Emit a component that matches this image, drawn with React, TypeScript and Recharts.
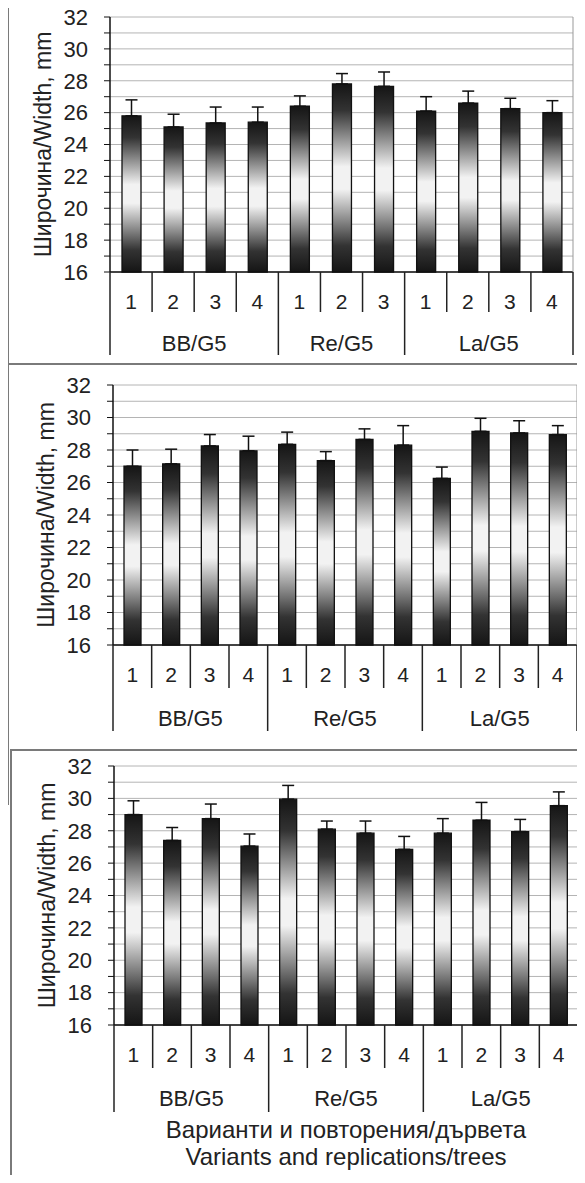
import React from "react";
import { Bar, BarChart, CartesianGrid, ErrorBar, XAxis, YAxis } from "recharts";

// shared axis values
const yTicks = [16, 17, 18, 19, 20, 21, 22, 23, 24, 25, 26, 27, 28, 29, 30, 31, 32];
const yLabel = "Широчина/Width, mm";
const titleBg = "Варианти и повторения/дървета";
const titleEn = "Variants and replications/trees";

// panel 1
const p1Reps = ["1", "2", "3", "4", "1", "2", "3", "1", "2", "3", "4"];
const p1Groups = ["BB/G5", "BB/G5", "BB/G5", "BB/G5", "Re/G5", "Re/G5", "Re/G5", "La/G5", "La/G5", "La/G5", "La/G5"];
const p1Means = [25.8, 25.1, 25.35, 25.4, 26.4, 27.8, 27.65, 26.1, 26.6, 26.25, 26.0];
const p1Errors = [1.0, 0.8, 1.0, 0.95, 0.65, 0.65, 0.9, 0.9, 0.75, 0.65, 0.75];

// panel 2
const p2Reps = ["1", "2", "3", "4", "1", "2", "3", "4", "1", "2", "3", "4"];
const p2Groups = ["BB/G5", "BB/G5", "BB/G5", "BB/G5", "Re/G5", "Re/G5", "Re/G5", "Re/G5", "La/G5", "La/G5", "La/G5", "La/G5"];
const p2Means = [27.0, 27.15, 28.25, 27.95, 28.35, 27.35, 28.65, 28.3, 26.25, 29.15, 29.05, 28.95];
const p2Errors = [1.0, 0.9, 0.7, 0.9, 0.75, 0.55, 0.65, 1.2, 0.7, 0.8, 0.75, 0.55];

// panel 3
const p3Reps = ["1", "2", "3", "4", "1", "2", "3", "4", "1", "2", "3", "4"];
const p3Groups = ["BB/G5", "BB/G5", "BB/G5", "BB/G5", "Re/G5", "Re/G5", "Re/G5", "Re/G5", "La/G5", "La/G5", "La/G5", "La/G5"];
const p3Means = [29.0, 27.4, 28.75, 27.05, 29.95, 28.1, 27.85, 26.85, 27.85, 28.65, 27.95, 29.55];
const p3Errors = [0.85, 0.8, 0.9, 0.75, 0.85, 0.5, 0.75, 0.8, 0.9, 1.1, 0.75, 0.85];

const FONT = "'Liberation Sans', Arial, sans-serif";
const CHART_W = 585;
const TOP_PAD = 12;
const X_AXIS_H = 90;

type Offsets = { num: number; grp: number; short: number; long: number };

const buildRows = (reps: string[], groups: string[], means: number[], errors: number[]) =>
  reps.map((rep, i) => ({ rep, grp: groups[i], mean: means[i], err: [0, errors[i]] }));

const YTick = (props: any) => {
  const { x, y, payload } = props;
  if (payload.value % 2 !== 0) return <g />;
  return (
    <text x={x} y={y} dy="0.355em" textAnchor="end" fontSize={22} fill="#222" fontFamily={FONT}>
      {payload.value}
    </text>
  );
};

const makeYLabel = () => (props: any) => {
  const { x, y, width, height } = props.viewBox;
  const cx = x + width - 59;
  const cy = y + height / 2;
  return (
    <text
      x={cx}
      y={cy}
      transform={`rotate(-90 ${cx} ${cy})`}
      textAnchor="middle"
      fontSize={23}
      fill="#222"
      fontFamily={FONT}
    >
      {yLabel}
    </text>
  );
};

const makeXTick = (groups: string[], band: number, o: Offsets) => (props: any) => {
  const { x, y, index, payload } = props;
  const half = band / 2;
  const start = index === 0 || groups[index] !== groups[index - 1];
  let size = 0;
  if (start) {
    while (groups[index + size] === groups[index]) size++;
  }
  const last = index === groups.length - 1;
  return (
    <g>
      <text x={x} y={y + o.num} dy="0.355em" textAnchor="middle" fontSize={21} fill="#222" fontFamily={FONT}>
        {payload.value}
      </text>
      <line x1={x - half} x2={x - half} y1={y} y2={y + (start ? o.long : o.short)} stroke="#222" strokeWidth={1.5} />
      {last && <line x1={x + half} x2={x + half} y1={y} y2={y + o.long} stroke="#222" strokeWidth={1.5} />}
      {start && (
        <text
          x={x + (size - 1) * half}
          y={y + o.grp}
          dy="0.355em"
          textAnchor="middle"
          fontSize={22}
          fill="#222"
          fontFamily={FONT}
        >
          {groups[index]}
        </text>
      )}
    </g>
  );
};

interface PanelProps {
  id: string;
  reps: string[];
  groups: string[];
  means: number[];
  errors: number[];
  plotTop: number;
  plotBottom: number;
  axisLeft: number;
  plotRight: number;
  barSize: number;
  offsets: Offsets;
}

const Panel: React.FC<PanelProps> = ({ id, reps, groups, means, errors, plotTop, plotBottom, axisLeft, plotRight, barSize, offsets }) => {
  const data = buildRows(reps, groups, means, errors);
  const band = (plotRight - axisLeft) / reps.length;
  const height = TOP_PAD + (plotBottom - plotTop) + X_AXIS_H;
  return (
    <div style={{ position: "absolute", left: 0, top: plotTop - TOP_PAD }}>
      <BarChart
        width={CHART_W}
        height={height}
        data={data}
        margin={{ top: TOP_PAD, right: CHART_W - plotRight - 1, bottom: 0, left: 0 }}
        barCategoryGap={0}
      >
        <defs>
          <linearGradient id={`grad-${id}`} x1="0" y1="0" x2="0" y2="1">
            <stop offset="0%" stopColor="#151515" />
            <stop offset="14%" stopColor="#333333" />
            <stop offset="44%" stopColor="#f2f2f2" />
            <stop offset="56%" stopColor="#f2f2f2" />
            <stop offset="86%" stopColor="#333333" />
            <stop offset="100%" stopColor="#151515" />
          </linearGradient>
        </defs>
        <CartesianGrid xAxisId="x" yAxisId="l" vertical={false} stroke="#b4b4b4" />
        <XAxis
          xAxisId="x"
          dataKey="rep"
          height={X_AXIS_H}
          interval={0}
          tickLine={false}
          tickSize={0}
          tickMargin={0}
          axisLine={{ stroke: "#111", strokeWidth: 1.5 }}
          tick={makeXTick(groups, band, offsets)}
        />
        <YAxis
          yAxisId="l"
          domain={[16, 32]}
          ticks={yTicks}
          interval={0}
          width={axisLeft}
          tickSize={6}
          tickMargin={16}
          tick={YTick}
          tickLine={{ stroke: "#111" }}
          axisLine={{ stroke: "#111", strokeWidth: 1.5 }}
          label={{ position: "center", content: makeYLabel() }}
        />
        <YAxis
          yAxisId="r"
          orientation="right"
          domain={[16, 32]}
          width={1}
          tick={false}
          tickLine={false}
          axisLine={{ stroke: "#999" }}
        />
        <Bar
          xAxisId="x"
          yAxisId="l"
          dataKey="mean"
          barSize={barSize}
          fill={`url(#grad-${id})`}
          stroke="#111"
          strokeWidth={1.3}
          isAnimationActive={false}
        >
          <ErrorBar dataKey="err" direction="y" width={6} stroke="#111" strokeWidth={1.5} />
        </Bar>
      </BarChart>
    </div>
  );
};

const frame = (left: number, top: number, width: number, height: number) => (
  <div style={{ position: "absolute", left, top, width, height, background: "#7a7a7a" }} />
);

export default function App() {
  return (
    <div
      style={{
        position: "relative",
        width: 585,
        height: 1183,
        margin: -8,
        background: "#fff",
        overflow: "hidden",
        fontFamily: FONT,
      }}
    >
      {frame(7, 4, 578, 1.5)}
      {frame(7, 4, 1.5, 801)}
      {frame(7, 363, 578, 1.5)}
      {frame(10, 749, 575, 1.5)}
      {frame(10, 749, 1.5, 434)}
      <Panel
        id="p1"
        reps={p1Reps}
        groups={p1Groups}
        means={p1Means}
        errors={p1Errors}
        plotTop={17}
        plotBottom={272}
        axisLeft={110}
        plotRight={573}
        barSize={19}
        offsets={{ num: 30, grp: 71, short: 40, long: 83 }}
      />
      <Panel
        id="p2"
        reps={p2Reps}
        groups={p2Groups}
        means={p2Means}
        errors={p2Errors}
        plotTop={385}
        plotBottom={645}
        axisLeft={113}
        plotRight={577}
        barSize={17}
        offsets={{ num: 30, grp: 73, short: 43, long: 86 }}
      />
      <Panel
        id="p3"
        reps={p3Reps}
        groups={p3Groups}
        means={p3Means}
        errors={p3Errors}
        plotTop={766}
        plotBottom={1025}
        axisLeft={114}
        plotRight={578}
        barSize={17}
        offsets={{ num: 30, grp: 73, short: 43, long: 87 }}
      />
      <div
        style={{
          position: "absolute",
          left: 114,
          top: 1116,
          width: 464,
          textAlign: "center",
          fontSize: 24,
          lineHeight: "27px",
          color: "#222",
        }}
      >
        <div>{titleBg}</div>
        <div>{titleEn}</div>
      </div>
    </div>
  );
}
